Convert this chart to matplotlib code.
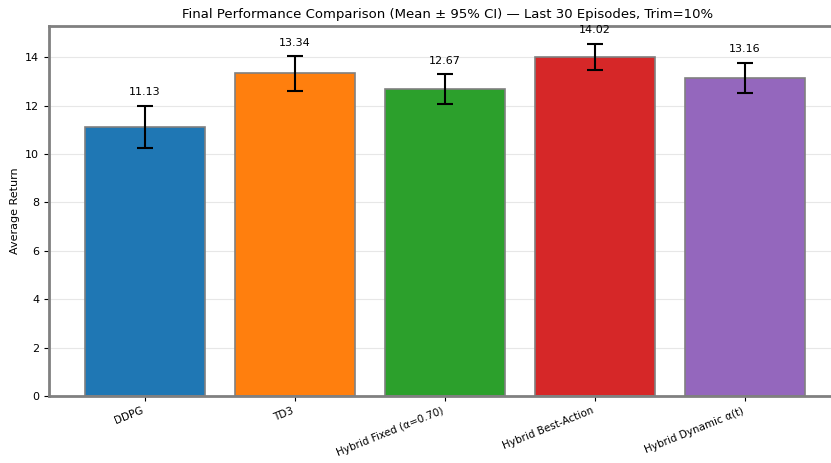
import matplotlib.pyplot as plt

methods = ['DDPG', 'TD3', 'Hybrid Fixed (α=0.70)', 'Hybrid Best-Action', 'Hybrid Dynamic α(t)']
means = [11.13, 13.34, 12.67, 14.02, 13.16]
ci95 = [0.87, 0.72, 0.62, 0.55, 0.62]
colors = ['#1f77b4', '#ff7f0e', '#2ca02c', '#d62728', '#9467bd']

fig = plt.figure(figsize=(8.31, 4.63), dpi=100)
ax = fig.add_axes([0.059, 0.145, 0.98, 0.799])

x = range(len(methods))
ax.bar(x, means, width=0.8, color=colors, edgecolor='grey', linewidth=1.2,
       yerr=ci95, capsize=6, error_kw=dict(ecolor='black', elinewidth=1.5, capthick=1.5))

# 数值标注放在误差线上方
for i, (m, c) in enumerate(zip(means, ci95)):
    ax.annotate(f'{m:.2f}', (i, m + c), xytext=(0, 6), textcoords='offset points',
                ha='center', va='bottom', fontsize=8)

ax.set_xticks(list(x))
ax.set_xticklabels(methods, rotation=22, ha='right', fontsize=7.5)
ax.tick_params(axis='y', labelsize=8)
ax.set_ylabel('Average Return', fontsize=8)
ax.set_title('Final Performance Comparison (Mean ± 95% CI) — Last 30 Episodes, Trim=10%',
             fontsize=9.5, x=0.489)
ax.set_ylim(0, max(m + c for m, c in zip(means, ci95)) * 1.05)
ax.set_xlim(-0.64, 4.79)
ax.grid(axis='y', alpha=0.3)
ax.set_axisbelow(True)
for s in ax.spines.values():
    s.set_color('grey')
    s.set_linewidth(2)

plt.savefig('out.png')
